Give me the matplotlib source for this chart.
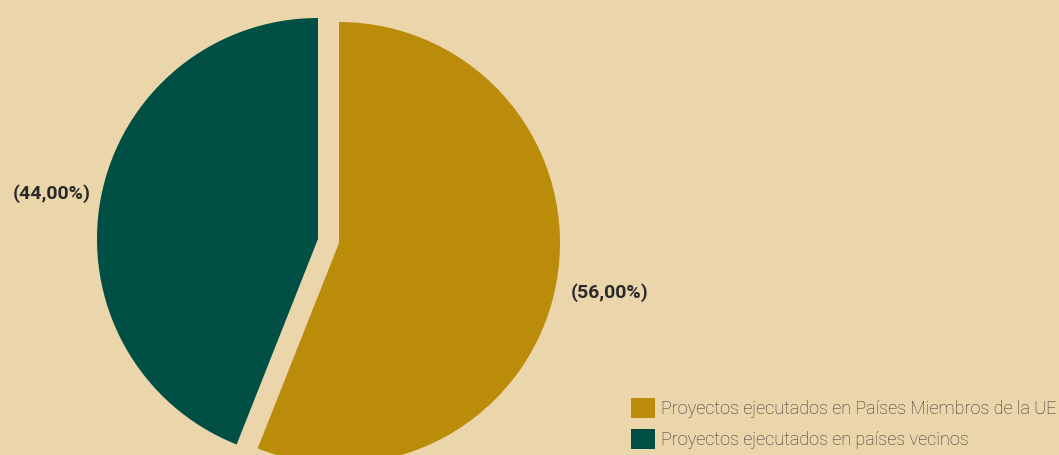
import matplotlib
matplotlib.use("Agg")
import matplotlib.pyplot as plt

# data
labels = ['Proyectos ejecutados en Países Miembros de la UE',
          'Proyectos ejecutados en países vecinos']
shares = [56.0, 44.0]
colors = ['#BB8C09', '#004F44']
bg = '#EBD5AB'

W, H = 1059, 455
fig = plt.figure(figsize=(W / 100, H / 100), dpi=100, facecolor=bg)
ax = fig.add_axes([0, 0, 1, 1])
ax.set_facecolor(bg)

# pie centre / radius in pixel units (y measured from bottom)
cx, cy, r = 328.5, H - 241, 221
# explode is an absolute offset here (data units = pixels)
wedges, _ = ax.pie(shares, colors=colors, startangle=90, counterclock=False,
                   explode=[10.7, 10.7], radius=r, center=(cx, cy),
                   frame=True)
ax.set_xlim(0, W)
ax.set_ylim(0, H)
ax.set_aspect('equal')
ax.axis('off')

# percentage labels
pct_pos = [(610, H - 293), (52, H - 194)]
for val, (x, y) in zip(shares, pct_pos):
    txt = '(' + f'{val:.2f}'.replace('.', ',') + '%)'
    ax.text(x, y, txt, ha='center', va='center', fontsize=14,
            fontweight='bold', color='#2a2a2a', family='Roboto')

leg = ax.legend(wedges, labels, loc='lower right',
                bbox_to_anchor=(1056 / W, 6 / H),
                frameon=False, handlelength=1.35, handleheight=1.35,
                handletextpad=0.3, labelspacing=0.6, borderaxespad=0,
                borderpad=0,
                prop={'family': 'Roboto', 'weight': 'light', 'size': 13})
for t in leg.get_texts():
    t.set_color('#333333')

fig.savefig('out.png', dpi=100, facecolor=bg)
